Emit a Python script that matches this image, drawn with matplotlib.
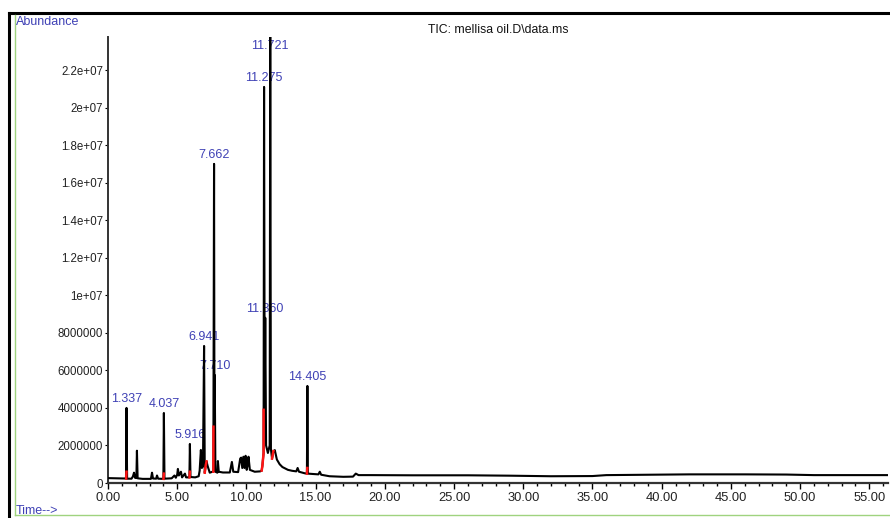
import matplotlib
matplotlib.use("Agg")
import matplotlib.pyplot as plt
from matplotlib.lines import Line2D

plt.rcParams['font.family'] = ['Liberation Sans', 'DejaVu Sans']

# TIC trace (time in min, abundance in counts)
trace_time = [0.00, 0.60, 1.20, 1.30, 1.337, 1.38, 1.70, 1.80, 1.88, 1.95,
              2.05, 2.09, 2.14, 2.50, 3.10, 3.18, 3.25, 3.48, 3.54, 3.62,
              4.00, 4.037, 4.08, 4.60, 4.80, 4.90, 5.00, 5.05, 5.12, 5.27,
              5.35, 5.56, 5.64, 5.88, 5.916, 5.96, 6.30, 6.55, 6.62, 6.71,
              6.78, 6.86, 6.941, 6.99, 7.05, 7.12, 7.20, 7.35, 7.55, 7.61,
              7.662, 7.69, 7.710, 7.76, 7.90, 7.94, 8.00, 8.30, 8.80, 8.95,
              9.05, 9.40, 9.55, 9.62, 9.70, 9.78, 9.86, 9.94, 10.02, 10.10,
              10.15, 10.25, 10.60, 11.00, 11.10, 11.15, 11.24, 11.275, 11.32, 11.360,
              11.42, 11.55, 11.68, 11.721, 11.77, 11.85, 11.95, 12.05, 12.20, 12.40,
              12.60, 13.00, 13.30, 13.60, 13.70, 13.80, 14.20, 14.37, 14.405, 14.44,
              14.80, 15.20, 15.30, 15.40, 16.00, 17.00, 17.70, 17.90, 18.10, 19.00,
              22.00, 26.00, 29.00, 32.00, 35.00, 36.00, 39.00, 42.00, 46.00, 49.00,
              51.00, 54.00, 56.30]
trace_abund = [2.6e5, 2.5e5, 2.4e5, 2.4e5, 4.00e6, 2.3e5, 2.3e5, 3.5e5, 5.5e5, 2.8e5,
               2.6e5, 1.72e6, 2.5e5, 2.2e5, 2.2e5, 5.5e5, 2.4e5, 2.3e5, 4.0e5, 2.3e5,
               2.2e5, 3.73e6, 2.3e5, 2.5e5, 4.0e5, 2.8e5, 4.5e5, 7.5e5, 4.0e5, 6.0e5,
               3.0e5, 5.0e5, 3.0e5, 3.0e5, 2.08e6, 3.2e5, 3.0e5, 3.6e5, 6.5e5, 1.76e6,
               8.0e5, 9.0e5, 7.30e6, 5.5e5, 9.0e5, 1.15e6, 9.0e5, 5.5e5, 6.0e5, 6.0e5,
               1.70e7, 3.0e6, 5.75e6, 6.0e5, 5.5e5, 1.17e6, 6.0e5, 5.6e5, 5.6e5, 1.12e6,
               6.0e5, 5.8e5, 1.30e6, 1.35e6, 8.0e5, 1.40e6, 8.0e5, 1.45e6, 7.0e5, 1.0e6,
               1.40e6, 7.0e5, 6.0e5, 6.2e5, 6.6e5, 9.0e5, 1.6e6, 2.11e7, 4.0e6, 8.8e6,
               2.0e6, 1.6e6, 2.0e6, 2.40e7, 1.8e6, 1.3e6, 1.7e6, 1.75e6, 1.25e6, 1.0e6,
               8.5e5, 7.0e5, 6.5e5, 6.2e5, 8.0e5, 6.0e5, 5.2e5, 5.0e5, 5.17e6, 5.0e5,
               4.8e5, 4.6e5, 6.0e5, 4.4e5, 3.6e5, 3.3e5, 3.4e5, 5.0e5, 4.2e5, 4.2e5,
               4.1e5, 4.1e5, 3.9e5, 3.6e5, 3.7e5, 4.2e5, 4.4e5, 4.6e5, 4.6e5, 4.5e5,
               4.2e5, 4.2e5, 4.2e5]

# integration marks (red) drawn over the trace
red_time = [[1.31, 1.337], [4.01, 4.037], [5.89, 5.916], [6.99, 7.05, 7.12],
            [7.61, 7.618], [11.10, 11.15, 11.24, 11.244], [11.85, 11.95],
            [14.37, 14.40]]
red_abund = [[2.4e5, 6.0e5], [2.2e5, 5.0e5], [3.0e5, 6.0e5], [5.5e5, 9.0e5, 1.15e6],
             [6.0e5, 3.0e6], [6.6e5, 9.0e5, 1.6e6, 3.9e6], [1.3e6, 1.7e6],
             [5.0e5, 8.0e5]]

# labelled peaks
peak_labels = ['1.337', '4.037', '5.916', '6.941', '7.662', '7.710',
               '11.275', '11.360', '11.721', '14.405']
peak_heights = [4.00e6, 3.73e6, 2.08e6, 7.30e6, 1.70e7, 5.75e6,
                2.11e7, 8.8e6, 2.40e7, 5.17e6]

ytick_vals = [0, 2e6, 4e6, 6e6, 8e6, 1e7, 1.2e7, 1.4e7, 1.6e7, 1.8e7, 2e7, 2.2e7]
ytick_text = ['0', '2000000', '4000000', '6000000', '8000000', '1e+07',
              '1.2e+07', '1.4e+07', '1.6e+07', '1.8e+07', '2e+07', '2.2e+07']
xtick_vals = [0, 5, 10, 15, 20, 25, 30, 35, 40, 45, 50, 55]
xtick_text = ['0.00', '5.00', '10.00', '15.00', '20.00', '25.00', '30.00',
              '35.00', '40.00', '45.00', '50.00', '55.00']

blue = '#3f41b5'
W, H = 890, 518
fig = plt.figure(figsize=(W / 100, H / 100), dpi=100)
ax = fig.add_axes([108 / W, 35 / H, 780 / W, 446 / H])

ax.plot(trace_time, trace_abund, color='black', lw=1.5, zorder=3)
for t, a in zip(red_time, red_abund):
    ax.plot(t, a, color='#ff1515', lw=1.8, zorder=4)

ymax = 2.376e7
for lbl, h in zip(peak_labels, peak_heights):
    t = float(lbl)
    if h > ymax:
        ax.annotate(lbl, (t, ymax), xytext=(0, -2), textcoords='offset points',
                    ha='center', va='top', color=blue, fontsize=9, zorder=2)
    else:
        ax.annotate(lbl, (t, h), xytext=(0, 2), textcoords='offset points',
                    ha='center', va='bottom', color=blue, fontsize=9, zorder=2)

ax.set_xlim(0, 56.35)
ax.set_ylim(0, ymax)
ax.set_xticks(xtick_vals)
ax.set_xticklabels(xtick_text)
ax.set_xticks(range(0, 57), minor=True)
ax.set_yticks(ytick_vals)
ax.set_yticklabels(ytick_text)
ax.tick_params(axis='x', which='major', direction='out', length=4.5, width=1.0,
               pad=2, labelsize=9.3, labelcolor='#222222')
ax.tick_params(axis='x', which='minor', direction='out', length=2.5, width=1.0)
ax.tick_params(axis='y', direction='out', length=2.5, width=0.8, pad=1,
               labelsize=8.3, labelcolor='#222222')
for s in ['top', 'right']:
    ax.spines[s].set_visible(False)
ax.spines['left'].set_linewidth(1.4)
ax.spines['left'].set_color('#333333')
ax.spines['bottom'].set_linewidth(1.6)
ax.spines['bottom'].set_color('#333333')
ax.patch.set_alpha(0)

# screenshot frame: black border and green inner line
fig.add_artist(Line2D([9 / W, 9 / W], [0, 1 - 13 / H], color='black', lw=2.2))
fig.add_artist(Line2D([9 / W, 1], [1 - 13 / H, 1 - 13 / H], color='black', lw=2.2))
fig.add_artist(Line2D([15.5 / W, 15.5 / W], [3 / H, 1 - 15 / H], color='#9fd37f', lw=1.0))
fig.add_artist(Line2D([15.5 / W, 1], [3 / H, 3 / H], color='#9fd37f', lw=1.0))

fig.text(16 / W, 1 - 22 / H, 'Abundance', color=blue, fontsize=9, va='center', ha='left')
fig.text(16 / W, 7 / H, 'Time-->', color=blue, fontsize=9, va='center', ha='left')
fig.text(428 / W, 1 - 30 / H, 'TIC: mellisa oil.D\\data.ms', color='#111111',
         fontsize=8.8, va='center', ha='left')

fig.savefig('out.png', dpi=100)
